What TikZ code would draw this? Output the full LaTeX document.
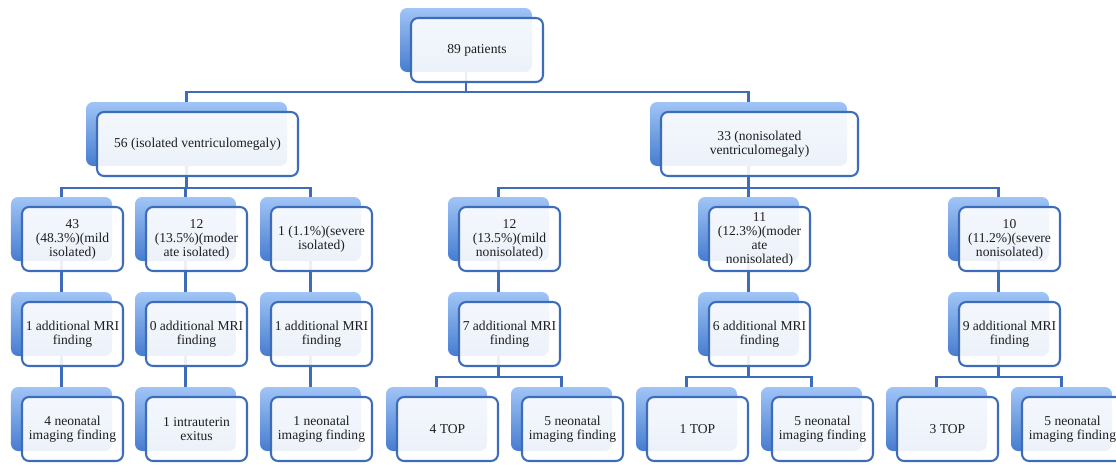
\documentclass[tikz,border=0pt]{standalone}
\usepackage{fontspec}
\setmainfont{Liberation Serif}
\usetikzlibrary{backgrounds}
\definecolor{bktop}{RGB}{160,196,246}
\definecolor{bkbot}{RGB}{70,124,208}
\definecolor{edge}{RGB}{60,108,186}
\definecolor{ink}{RGB}{30,30,30}

\begin{document}
\begin{tikzpicture}[
        x=0.7pt, y=-0.7pt,
        backbox/.style={rectangle, rounded corners=5pt, top color=bktop, bottom color=bkbot, minimum height=44.8pt, inner sep=0pt},
        frontbox/.style={rectangle, rounded corners=5pt, draw=edge, line width=1.45pt, fill=white, fill opacity=0.9, text opacity=1, minimum height=44.8pt, inner sep=2pt, align=center, text=ink, font=\fontsize{9.5}{9.8}\selectfont},
        narrow/.style={minimum width=70.7pt},
        link/.style={draw=edge, line width=1.45pt},
    ]
        \useasboundingbox (0,0) rectangle (1116,464);

        % Root
        \node[backbox, minimum width=92.4pt] (patbg) at (466,40) {};
        \node[frontbox, minimum width=92.4pt] (pat) at ([shift={(11,10)}]patbg) {89 patients};

        % Isolated / nonisolated
        \node[backbox, minimum width=140.7pt] (isobg) at (186.5,134) {};
        \node[frontbox, minimum width=140.7pt] (iso) at ([shift={(11,10)}]isobg) {56 (isolated ventriculomegaly)};
        \node[backbox, minimum width=137.9pt] (nisobg) at (748.5,134) {};
        \node[frontbox, minimum width=137.9pt] (niso) at ([shift={(11,10)}]nisobg) {33 (nonisolated\\ventriculomegaly)};

        % Grades
        \node[backbox, narrow] (iso1bg) at (61.5,229) {};
        \node[frontbox, narrow] (iso1) at ([shift={(11,10)}]iso1bg) {43\\(48.3\%)(mild\\isolated)};
        \node[backbox, narrow] (iso2bg) at (185.5,229) {};
        \node[frontbox, narrow] (iso2) at ([shift={(11,10)}]iso2bg) {12\\(13.5\%)(moder\\ate isolated)};
        \node[backbox, narrow] (iso3bg) at (310.5,229) {};
        \node[frontbox, narrow] (iso3) at ([shift={(11,10)}]iso3bg) {1 (1.1\%)(severe\\isolated)};
        \node[backbox, narrow] (niso1bg) at (498.5,229) {};
        \node[frontbox, narrow] (niso1) at ([shift={(11,10)}]niso1bg) {12\\(13.5\%)(mild\\nonisolated)};
        \node[backbox, narrow] (niso2bg) at (748.5,229) {};
        \node[frontbox, narrow] (niso2) at ([shift={(11,10)}]niso2bg) {11\\(12.3\%)(moder\\ate\\nonisolated)};
        \node[backbox, narrow] (niso3bg) at (998.5,229) {};
        \node[frontbox, narrow] (niso3) at ([shift={(11,10)}]niso3bg) {10\\(11.2\%)(severe\\nonisolated)};

        % MRI findings
        \node[backbox, narrow] (mri1bg) at (61.5,324) {};
        \node[frontbox, narrow] (mri1) at ([shift={(11,10)}]mri1bg) {1 additional MRI\\finding};
        \node[backbox, narrow] (mri2bg) at (185.5,324) {};
        \node[frontbox, narrow] (mri2) at ([shift={(11,10)}]mri2bg) {0 additional MRI\\finding};
        \node[backbox, narrow] (mri3bg) at (310.5,324) {};
        \node[frontbox, narrow] (mri3) at ([shift={(11,10)}]mri3bg) {1 additional MRI\\finding};
        \node[backbox, narrow] (mri4bg) at (498.5,324) {};
        \node[frontbox, narrow] (mri4) at ([shift={(11,10)}]mri4bg) {7 additional MRI\\finding};
        \node[backbox, narrow] (mri5bg) at (748.5,324) {};
        \node[frontbox, narrow] (mri5) at ([shift={(11,10)}]mri5bg) {6 additional MRI\\finding};
        \node[backbox, narrow] (mri6bg) at (998.5,324) {};
        \node[frontbox, narrow] (mri6) at ([shift={(11,10)}]mri6bg) {9 additional MRI\\finding};

        % Outcomes
        \node[backbox, narrow] (out1bg) at (61.5,419) {};
        \node[frontbox, narrow] (out1) at ([shift={(11,10)}]out1bg) {4 neonatal\\imaging finding};
        \node[backbox, narrow] (out2bg) at (185.5,419) {};
        \node[frontbox, narrow] (out2) at ([shift={(11,10)}]out2bg) {1 intrauterin\\exitus};
        \node[backbox, narrow] (out3bg) at (310.5,419) {};
        \node[frontbox, narrow] (out3) at ([shift={(11,10)}]out3bg) {1 neonatal\\imaging finding};
        \node[backbox, narrow] (out4bg) at (436.5,419) {};
        \node[frontbox, narrow] (out4) at ([shift={(11,10)}]out4bg) {4 TOP};
        \node[backbox, narrow] (out5bg) at (561.5,419) {};
        \node[frontbox, narrow] (out5) at ([shift={(11,10)}]out5bg) {5 neonatal\\imaging finding};
        \node[backbox, narrow] (out6bg) at (686.5,419) {};
        \node[frontbox, narrow] (out6) at ([shift={(11,10)}]out6bg) {1 TOP};
        \node[backbox, narrow] (out7bg) at (811.5,419) {};
        \node[frontbox, narrow] (out7) at ([shift={(11,10)}]out7bg) {5 neonatal\\imaging finding};
        \node[backbox, narrow] (out8bg) at (936.5,419) {};
        \node[frontbox, narrow] (out8) at ([shift={(11,10)}]out8bg) {3 TOP};
        \node[backbox, narrow] (out9bg) at (1061.5,419) {};
        \node[frontbox, narrow] (out9) at ([shift={(11,10)}]out9bg) {5 neonatal\\imaging finding};

        % Connectors (behind the boxes)
        \coordinate (bar0) at (0,92);
        \coordinate (bar1) at (0,188);
        \coordinate (bar3) at (0,377);
        \begin{pgfonlayer}{background}
            \draw[link] (patbg.center) -- (patbg.center |- bar0) -| (isobg.north);
            \draw[link] (patbg.center |- bar0) -| (nisobg.north);
            \draw[link] (isobg.center) -- (isobg.center |- bar1) -| (iso1bg.north);
            \draw[link] (isobg.center |- bar1) -| (iso2bg.north);
            \draw[link] (isobg.center |- bar1) -| (iso3bg.north);
            \draw[link] (nisobg.center) -- (nisobg.center |- bar1) -| (niso1bg.north);
            \draw[link] (nisobg.center |- bar1) -| (niso2bg.north);
            \draw[link] (nisobg.center |- bar1) -| (niso3bg.north);
            \draw[link] (iso1bg.center) -- (mri1bg.north);
            \draw[link] (iso2bg.center) -- (mri2bg.north);
            \draw[link] (iso3bg.center) -- (mri3bg.north);
            \draw[link] (niso1bg.center) -- (mri4bg.north);
            \draw[link] (niso2bg.center) -- (mri5bg.north);
            \draw[link] (niso3bg.center) -- (mri6bg.north);
            \draw[link] (mri1bg.center) -- (out1bg.north);
            \draw[link] (mri2bg.center) -- (out2bg.north);
            \draw[link] (mri3bg.center) -- (out3bg.north);
            \draw[link] (mri4bg.center) -- (mri4bg.center |- bar3) -| (out4bg.north);
            \draw[link] (mri4bg.center |- bar3) -| (out5bg.north);
            \draw[link] (mri5bg.center) -- (mri5bg.center |- bar3) -| (out6bg.north);
            \draw[link] (mri5bg.center |- bar3) -| (out7bg.north);
            \draw[link] (mri6bg.center) -- (mri6bg.center |- bar3) -| (out8bg.north);
            \draw[link] (mri6bg.center |- bar3) -| (out9bg.north);
        \end{pgfonlayer}
    \end{tikzpicture}
\end{document}
